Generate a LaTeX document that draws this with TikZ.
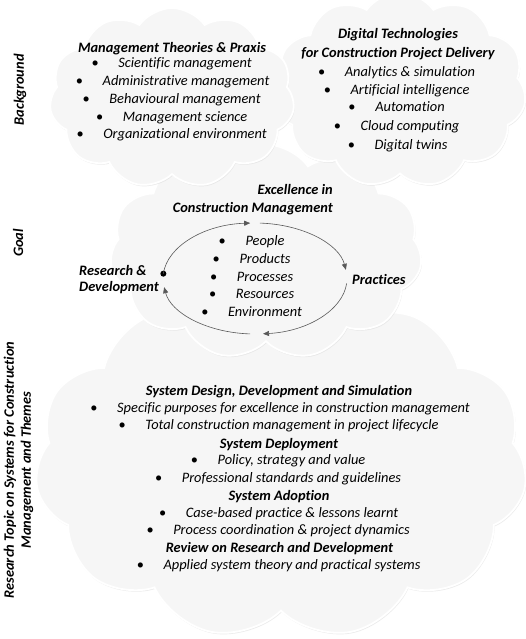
\documentclass[tikz,border=0pt]{standalone}
\usepackage{fontspec}
\setmainfont{Carlito}[RawFeature=-liga]
\usetikzlibrary{shapes.symbols,shadows,arrows.meta}
\tikzset{
  cloudbg/.style={cloud, cloud puffs=11, cloud puff arc=110, draw=white, line width=1.8pt,
    fill=gray!7, inner sep=0pt,
    drop shadow={shadow xshift=0.8pt, shadow yshift=-1.5pt, fill=gray!30, opacity=0.5}},
  txt/.style={font=\fontsize{14.4}{18}\selectfont\itshape, inner sep=0pt, text height=10.5pt, text depth=1.5pt},
  hd/.style={font=\fontsize{14.4}{19}\selectfont\bfseries\itshape, inner sep=0pt, yshift=-1.5pt},
  side/.style={font=\fontsize{14.4}{17}\selectfont\bfseries\itshape, inner sep=0pt, rotate=90, align=center},
  bul/.style={font=\fontsize{14.4}{18}\selectfont, inner sep=0pt, text height=10.5pt, text depth=1.5pt},
  cyc/.style={draw=black!65, line width=0.6pt, -{Triangle[length=6pt,width=5pt]}},
}
\newcommand{\bitem}[4]{%
  \node[txt] (#1) at (#2,#3) {#4};
  \node[bul, anchor=base] (#1b) at ([xshift=-23pt]#1.base west) {\textbullet};
}
\begin{document}
\begin{tikzpicture}[x=1pt,y=-1pt]
\useasboundingbox (0,0) rectangle (526,639);
\fill[white] (0,0) rectangle (526,639);

% clouds
\node[cloudbg, minimum width=492pt, minimum height=350pt] (cbot) at (281,464) {};
\node[cloudbg, minimum width=312pt, minimum height=215pt] (cgoal) at (266,252) {};
\node[cloudbg, minimum width=252pt, minimum height=195pt] (cright) at (400,90) {};
\node[cloudbg, minimum width=245pt, minimum height=180pt] (cleft) at (172,98) {};

% side labels
\node[side] (lbg) at (20,90) {Background};
\node[side] (lgoal) at (18,243) {Goal};
\node[side] (ltopic) at (18.5,470) {Research Topic on Systems for Construction\\Management and Themes};

% background left
\node[hd] (h1) at (172,47) {Management Theories \& Praxis};
\bitem{a1}{185}{63}{Scientific management}
\bitem{a2}{186}{81}{Administrative management}
\bitem{a3}{185}{99}{Behavioural management}
\bitem{a4}{185}{117}{Management science}
\bitem{a5}{185}{134}{Organizational environment}

% background right
\node[hd, align=center] (h2) at (398,43) {Digital Technologies\\for Construction Project Delivery};
\bitem{d1}{410}{72}{Analytics \& simulation}
\bitem{d2}{410}{90}{Artificial intelligence}
\bitem{d3}{410}{107}{Automation}
\bitem{d4}{410}{126}{Cloud computing}
\bitem{d5}{411}{145}{Digital twins}

% goal
\node[hd, align=right, anchor=east, font=\fontsize{14.4}{18}\selectfont\bfseries\itshape] (exc) at (333,198) {Excellence in\\Construction Management};
\node[hd, align=left, anchor=west, font=\fontsize{14.4}{15.5}\selectfont\bfseries\itshape] (rd) at (79,278) {Research \&\\Development};
\node[hd, anchor=west] (prac) at (352,278) {Practices};
\bitem{g1}{265}{241}{People}
\bitem{g2}{265}{259}{Products}
\bitem{g3}{265}{277}{Processes}
\bitem{g4}{265}{294}{Resources}
\bitem{g5}{265}{312}{Environment}

\coordinate (ec) at (255,278.5);
\node[circle, fill=black, inner sep=0pt, minimum size=6pt] (dot) at ([shift={(185:92 and 55.5)}]ec) {};
\draw[cyc] (dot.center) arc[start angle=185, end angle=267, x radius=92, y radius=55.5];
\draw[cyc] ([shift={(273:92 and 55.5)}]ec) arc[start angle=273, end angle=351, x radius=92, y radius=55.5];
\draw[cyc] ([shift={(5:92 and 55.5)}]ec) arc[start angle=5, end angle=85, x radius=92, y radius=55.5];
\draw[cyc] ([shift={(93:92 and 55.5)}]ec) arc[start angle=93, end angle=171, x radius=92, y radius=55.5];

% bottom
\node[hd] (s1) at (279,390) {System Design, Development and Simulation};
\bitem{s1a}{293.5}{408}{Specific purposes for excellence in construction management}
\bitem{s1b}{292}{425}{Total construction management in project lifecycle}
\node[hd] (s2) at (279,443) {System Deployment};
\bitem{s2a}{291.5}{460}{Policy, strategy and value}
\bitem{s2b}{291.5}{478}{Professional standards and guidelines}
\node[hd] (s3) at (279,495) {System Adoption};
\bitem{s3a}{292}{513}{Case-based practice \& lessons learnt}
\bitem{s3b}{291.5}{530}{Process coordination \& project dynamics}
\node[hd] (s4) at (279.5,547) {Review on Research and Development};
\bitem{s4a}{292}{565}{Applied system theory and practical systems}
\end{tikzpicture}
\end{document}
